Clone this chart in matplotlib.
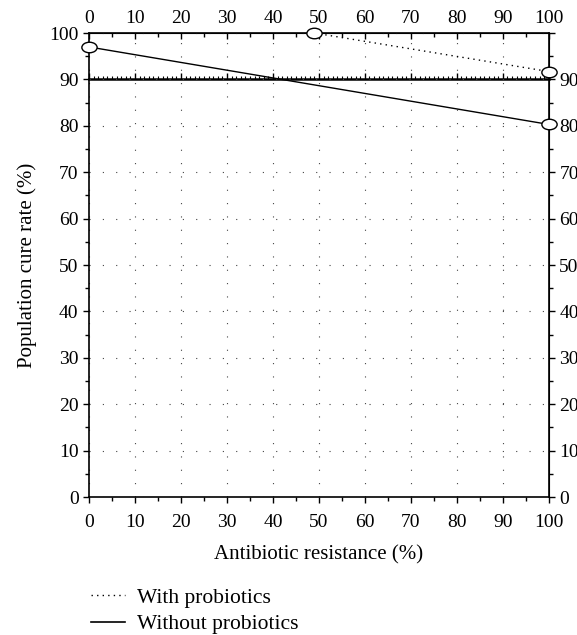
import matplotlib
matplotlib.use("Agg")
import matplotlib.pyplot as plt
from matplotlib.ticker import MultipleLocator, FuncFormatter
from matplotlib.path import Path
from matplotlib.transforms import Affine2D

plt.rcParams["font.family"] = ["Liberation Serif", "DejaVu Serif"]

# data
resist_without = [0, 100]
cure_without = [97.0, 80.3]
resist_with = [49, 100]
cure_with = [100, 91.7]
series_names = ["With probiotics", "Without probiotics"]

# flat open ellipse marker
ellipse = Path.unit_circle().transformed(Affine2D().scale(1.45, 1.0))

fig = plt.figure(figsize=(5.77, 6.35), dpi=100)
ax = fig.add_axes([0.1542, 0.2173, 0.797, 0.7307])

ax.plot(resist_with, cure_with, color="black", lw=1.0, ls=(0, (1, 3)),
        marker=ellipse, ms=11, mfc="white", mec="black", mew=1.0,
        clip_on=False, zorder=5)
ax.plot(resist_without, cure_without, color="black", lw=1.0, ls="-",
        marker=ellipse, ms=11, mfc="white", mec="black", mew=1.0,
        clip_on=False, zorder=5)

ax.set_xlim(0, 100)
ax.set_ylim(0, 100)
ax.xaxis.set_major_locator(MultipleLocator(10))
ax.xaxis.set_minor_locator(MultipleLocator(5))
ax.yaxis.set_major_locator(MultipleLocator(10))
ax.yaxis.set_minor_locator(MultipleLocator(5))
ax.tick_params(which="both", top=False, right=False, direction="out", labelsize=14)
ax.tick_params(which="major", length=4.5, width=1.0)
ax.tick_params(which="minor", length=3, width=1.0)
ax.tick_params(axis="x", which="major", pad=8)
ax.tick_params(axis="y", which="major", pad=3)
ax.grid(True, which="major", color="#444444", ls=(0, (1, 11)), lw=0.8)
for s in ax.spines.values():
    s.set_linewidth(1.2)

# top axis: ticks pointing down into the plot
top = ax.secondary_xaxis("top")
top.xaxis.set_major_locator(MultipleLocator(10))
top.xaxis.set_minor_locator(MultipleLocator(5))
top.tick_params(which="both", direction="in", labelsize=14, width=1.0)
top.tick_params(which="major", length=4.5, pad=4.5)
top.tick_params(which="minor", length=3)

# right axis: labels stop at 90
right = ax.secondary_yaxis("right")
right.yaxis.set_major_locator(MultipleLocator(10))
right.yaxis.set_minor_locator(MultipleLocator(5))
right.yaxis.set_major_formatter(FuncFormatter(lambda v, p: "" if v > 95 else "%d" % v))
right.tick_params(which="both", direction="out", labelsize=14, width=1.0)
right.tick_params(which="major", length=4.5, pad=3)
right.tick_params(which="minor", length=3)

# the thick line at 90 with small ticks
sec = ax.secondary_xaxis(0.9)
sec.xaxis.set_major_locator(MultipleLocator(10))
sec.xaxis.set_minor_locator(MultipleLocator(1))
sec.tick_params(which="major", length=4, width=1.0, labeltop=False, direction="out")
sec.tick_params(which="minor", length=2.5, width=0.8, direction="out")
sec.spines["top"].set_linewidth(1.8)

ax.set_xlabel("Antibiotic resistance (%)", fontsize=15, labelpad=10)
ax.set_ylabel("Population cure rate (%)", fontsize=15, labelpad=9)

fig.legend([plt.Line2D([], [], color="black", lw=1.0, ls=(0, (1, 3))),
            plt.Line2D([], [], color="black", lw=1.2)],
           series_names, loc="upper left", bbox_to_anchor=(0.131, 0.098),
           frameon=False, fontsize=15.5, handlelength=1.6, handletextpad=0.55,
           labelspacing=0.3, borderpad=0.2)

fig.savefig("out.png", dpi=100)
